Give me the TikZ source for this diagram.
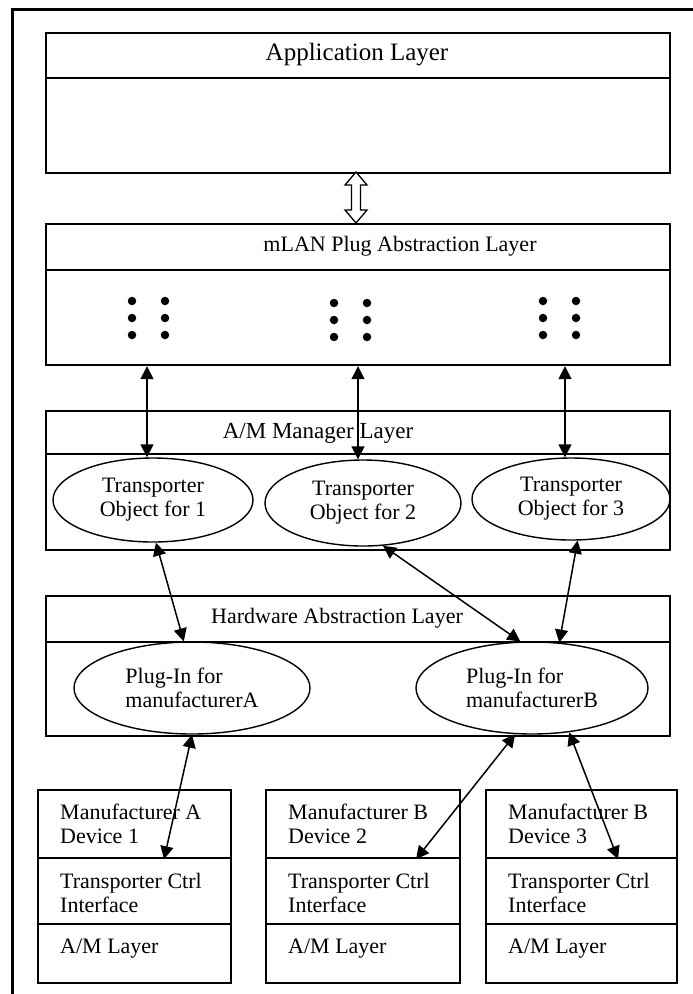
\documentclass[tikz,border=0pt]{standalone}
\usepackage{fontspec}
\setmainfont{Liberation Serif}
\usetikzlibrary{arrows.meta,shapes.geometric}
\begin{document}
\begin{tikzpicture}[x=1pt,y=-1pt,
  font=\fontsize{22}{24}\selectfont,
  frame/.style={line width=3.5pt, line join=miter},
  layerbox/.style={draw, line width=2.2pt, rectangle, inner sep=0pt, anchor=north west},
  obj/.style={draw, ellipse, line width=1.4pt, inner sep=0pt},
  lbl/.style={inner sep=0pt},
  devtxt/.style={inner sep=0pt, anchor=north west, align=left},
  link/.style={line width=1.5pt, {Triangle[length=13pt,width=13pt]}-{Triangle[length=13pt,width=13pt]}},
  dotm/.style={circle, fill=black, inner sep=0pt, minimum size=8.5pt},
  hollow/.style={draw, line width=1.3pt, fill=white, line join=miter}
]
\useasboundingbox (0,0) rectangle (693,994);
% outer frame
\draw[frame] (693,9.5) -- (12.7,9.5) -- (12.7,994);

% Application layer
\node[layerbox, minimum width=624pt, minimum height=45pt] (apphead) at (45,32) {};
\node[layerbox, minimum width=624pt, minimum height=95pt] (appbody) at (45,77) {};
\node[lbl, font=\fontsize{25}{28}\selectfont] (applbl) at (357,55) {Application Layer};

% hollow double arrow
\draw[hollow] (356,172) -- (367,185) -- (360.5,185) -- (360.5,210) -- (367,210) -- (356,223)
  -- (345,210) -- (351.5,210) -- (351.5,185) -- (345,185) -- cycle;

% mLAN plug abstraction layer
\node[layerbox, minimum width=624pt, minimum height=46pt] (mlanhead) at (45,223) {};
\node[layerbox, minimum width=624pt, minimum height=95pt] (mlanbody) at (45,269) {};
\node[lbl] (mlanlbl) at (400,246) {mLAN Plug Abstraction Layer};
\foreach \gx/\gy [count=\g] in {132/301, 334/303, 543/301}{
  \foreach \r in {0,1,2}{
    \node[dotm] (dA\g\r) at (\gx,\gy+17*\r) {};
    \node[dotm] (dB\g\r) at (\gx+33,\gy+17*\r) {};
  }
}

% A/M manager layer
\node[layerbox, minimum width=624pt, minimum height=43pt] (amhead) at (45,410) {};
\node[layerbox, minimum width=624pt, minimum height=96pt] (ambody) at (45,453) {};
\node[lbl, font=\fontsize{23}{26}\selectfont] (amlbl) at (318,433) {A/M Manager Layer};
\node[obj, align=center, minimum width=200pt, minimum height=84pt] (e1) at (153,500) {Transporter\\Object for 1};
\node[obj, align=center, minimum width=196pt, minimum height=86pt] (e2) at (363,503) {Transporter\\Object for 2};
\node[obj, align=center, minimum width=198pt, minimum height=82pt] (e3) at (571,499) {Transporter\\Object for 3};

% Hardware abstraction layer
\node[layerbox, minimum width=624pt, minimum height=46pt] (halhead) at (45,595) {};
\node[layerbox, minimum width=624pt, minimum height=94pt] (halbody) at (45,641) {};
\node[lbl] (hallbl) at (337,618) {Hardware Abstraction Layer};
\node[obj, align=left, minimum width=236pt, minimum height=92pt] (pa) at (192,688) {Plug-In for\\manufacturerA};
\node[obj, align=left, minimum width=232pt, minimum height=92pt] (pb) at (532,688) {Plug-In for\\manufacturerB};

% devices
\foreach \n/\x/\w/\m in {1/37/193/A, 2/265/194/B, 3/485/191/B}{
  \node[layerbox, minimum width=\w pt, minimum height=68pt] (d\n top) at (\x,789) {};
  \node[layerbox, minimum width=\w pt, minimum height=66pt] (d\n mid) at (\x,857) {};
  \node[layerbox, minimum width=\w pt, minimum height=59pt] (d\n bot) at (\x,923) {};
  \node[devtxt] (d\n toptxt) at (\x+23,804) {Manufacturer \m\\Device \n};
  \node[devtxt] (d\n midtxt) at (\x+23,873) {Transporter Ctrl\\Interface};
  \node[devtxt] (d\n bottxt) at (\x+23,939) {A/M Layer};
}

% connector x positions
\coordinate (x1) at (147,0);
\coordinate (x2) at (358,0);
\coordinate (x3) at (565,0);
\coordinate (a1) at (164,0);
\coordinate (a2) at (416,0);
\coordinate (a3) at (618,0);

\draw[link] (mlanbody.south -| x1) -- (e1.north -| x1);
\draw[link] (mlanbody.south -| x2) -- (e2.north -| x2);
\draw[link] (mlanbody.south -| x3) -- (e3.north -| x3);

\draw[link] (e1.-86) -- (pa.100);
\draw[link] (e2.-65) -- (pb.104);
\draw[link] (e3.-81) -- (pb.59);

\draw[link] (pa.-90) -- (d1top.south -| a1);
\draw[link] (pb.-110) -- (d2top.south -| a2);
\draw[link] (pb.-50) -- (d3top.south -| a3);
\end{tikzpicture}
\end{document}
